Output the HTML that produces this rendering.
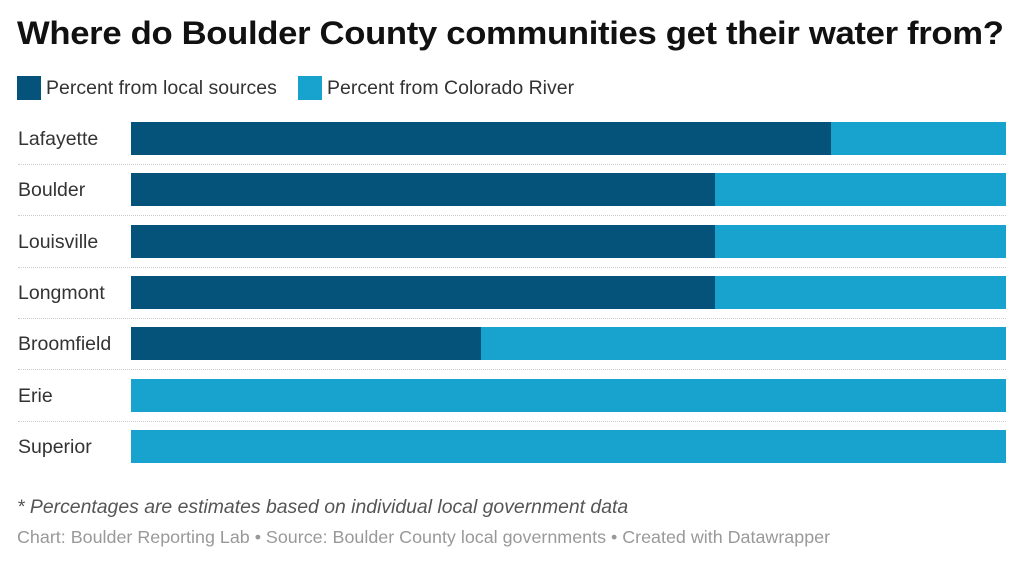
<!DOCTYPE html>
<html><head><meta charset="utf-8"><style>
body{margin:0;width:1024px;height:567px;background:#fff;font-family:"Liberation Sans",sans-serif;position:relative;overflow:hidden}
#title{position:absolute;left:17px;top:15px;font-size:32px;font-weight:bold;color:#111;letter-spacing:-0.3px;white-space:nowrap;transform-origin:left top;transform:scaleX(1.083)}
.leg{position:absolute;top:76px;height:24px;font-size:19.5px;color:#333;line-height:24px;white-space:nowrap}
.sw{display:inline-block;width:24px;height:24px;vertical-align:top;margin-right:5px}
#note{position:absolute;left:17px;top:496px;font-size:19.4px;font-style:italic;color:#555;white-space:nowrap}
#src{position:absolute;left:17px;top:527px;font-size:17.9px;color:#999;white-space:nowrap}
.lab{position:absolute;left:18px;font-size:19.5px;color:#333}
.sep{position:absolute;left:18px;width:988px;border-top:1px dotted #ccc;height:0}
.bar{position:absolute;height:33px}
</style></head><body>
<div id="title">Where do Boulder County communities get their water from?</div>
<div class="leg" style="left:17px"><span class="sw" style="background:#05537a"></span>Percent from local sources</div>
<div class="leg" style="left:298px"><span class="sw" style="background:#18a2ce"></span>Percent from Colorado River</div>
<div id="chart"></div>
<div id="note">* Percentages are estimates based on individual local government data</div>
<div id="src">Chart: Boulder Reporting Lab • Source: Boulder County local governments • Created with Datawrapper</div>
<script>
const categories=["Lafayette","Boulder","Louisville","Longmont","Broomfield","Erie","Superior"];
const localPct=[80,66.7,66.7,66.7,40,0,0];
const riverPct=[20,33.3,33.3,33.3,60,100,100];
const x0=131,x1=1006,top0=122,pitch=51.3;
const xs=v=>(x1-x0)*v/100;
const c=document.getElementById('chart');
categories.forEach((cat,i)=>{
  const y=top0+i*pitch;
  const l=document.createElement('div');
  l.className='lab';l.style.top=(y+6)+'px';l.textContent=cat;
  
  
  c.appendChild(l);
  const a=document.createElement('div');
  a.className='bar';a.style.top=y+'px';a.style.left=x0+'px';a.style.width=xs(localPct[i])+'px';a.style.background='#05537a';
  
  
  c.appendChild(a);
  const b=document.createElement('div');
  b.className='bar';b.style.top=y+'px';b.style.left=(x0+xs(localPct[i]))+'px';b.style.width=xs(riverPct[i])+'px';b.style.background='#18a2ce';
  
  
  c.appendChild(b);
  if(i<categories.length-1){
    const s=document.createElement('div');
    s.className='sep';s.style.top=(y+42)+'px';
    
    
    c.appendChild(s);
  }
});
</script>
</body></html>
